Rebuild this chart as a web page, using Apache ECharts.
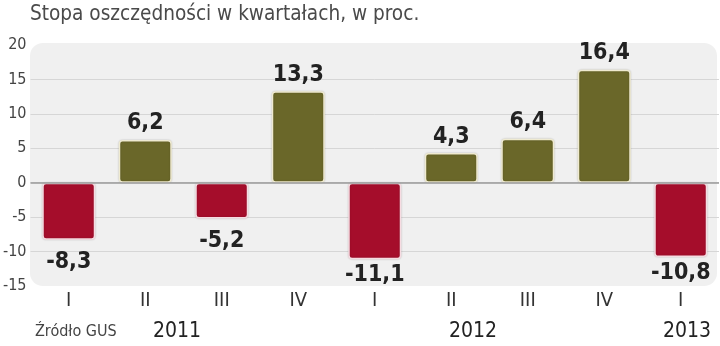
<!DOCTYPE html>
<html>
<head>
<meta charset="utf-8">
<script src="https://cdn.jsdelivr.net/npm/echarts@6/dist/echarts.min.js"></script>
<style>
html,body{margin:0;padding:0;background:#fff;}
#c{width:720px;height:346px;}
</style>
</head>
<body>
<div id="c"></div>
<script>
var title = 'Stopa oszczędności w kwartałach, w proc.';
var source = 'Źródło GUS';
var quarters = ['I', 'II', 'III', 'IV', 'I', 'II', 'III', 'IV', 'I'];
var savingsRate = [-8.3, 6.2, -5.2, 13.3, -11.1, 4.3, 6.4, 16.4, -10.8];
var years = ['2011', '2012', '2013'];
var yearPositions = [177, 473, 687];
var yTicks = [-15, -10, -5, 0, 5, 10, 15, 20];

var OLIVE = '#6a6729';
var RED = '#a50d2b';
var NARROW = '"Liberation Sans Narrow","DejaVu Sans Condensed",sans-serif';

var chart = echarts.init(document.getElementById('c'), null, {renderer: 'canvas'});

var barData = savingsRate.map(function (v) {
  var neg = v < 0;
  return {
    value: v,
    itemStyle: {
      color: neg ? RED : OLIVE,
      borderColor: neg ? '#f6dbe1' : '#efead0',
      borderWidth: 1.5,
      borderRadius: 3,
      shadowColor: 'rgba(0,0,0,0.18)',
      shadowBlur: 2
    },
    label: {position: neg ? 'bottom' : 'top', distance: neg ? (v < -10 ? 4 : 11) : 5}
  };
});

var graphics = [
  {
    type: 'rect', z: -10, silent: true,
    shape: {x: 30, y: 43, width: 687, height: 243, r: 13},
    style: {fill: '#f0f0f0'}
  },
  {
    type: 'text', left: 30, top: 4,
    style: {text: title, fill: '#4a4a4a', font: '20.6px ' + NARROW}
  },
  {
    type: 'text', left: 35, top: 324,
    style: {text: source, fill: '#444', font: '16px ' + NARROW}
  }
];
years.forEach(function (y, i) {
  graphics.push({
    type: 'text', x: yearPositions[i], y: 332,
    style: {text: y, fill: '#222', font: '21px ' + NARROW, align: 'center', verticalAlign: 'middle'}
  });
});

chart.setOption({
  backgroundColor: '#fff',
  animation: false,
  graphic: graphics,
  grid: {left: 30, right: 1, top: 45, bottom: 60, containLabel: false},
  xAxis: {
    type: 'category',
    data: quarters,
    axisLine: {show: false},
    axisTick: {show: false},
    axisLabel: {color: '#333', fontSize: 20, fontFamily: NARROW, margin: 5}
  },
  yAxis: {
    type: 'value',
    min: yTicks[0],
    max: yTicks[yTicks.length - 1],
    interval: 5,
    axisLine: {show: false},
    axisTick: {show: false},
    axisLabel: {
      color: '#444', fontSize: 16, fontFamily: NARROW, margin: 4,
      formatter: function (v) { return String(v); }
    },
    splitLine: {
      show: true,
      lineStyle: {color: '#d6d6d6', width: 1},
      showMinLine: false,
      showMaxLine: false
    }
  },
  series: [{
    type: 'bar',
    data: barData,
    barWidth: 53,
    label: {
      show: true,
      color: '#222',
      fontSize: 23,
      fontWeight: 'bold',
      fontFamily: NARROW,
      formatter: function (p) { return String(p.value).replace('.', ','); }
    },
    markLine: {
      silent: true,
      symbol: 'none',
      label: {show: false},
      lineStyle: {color: '#9a9a9a', width: 1.5, type: 'solid'},
      data: [{yAxis: 0}]
    },
    z: 3
  }]
});
</script>
</body>
</html>
